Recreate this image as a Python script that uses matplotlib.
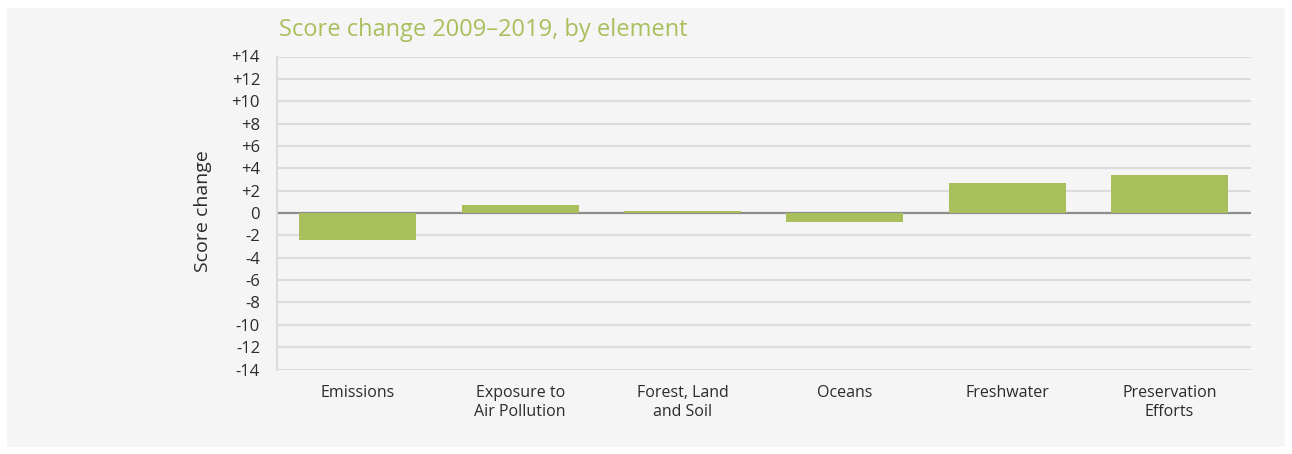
import matplotlib.pyplot as plt
from matplotlib.patches import Rectangle
import matplotlib.transforms as mtransforms

categories = ["Emissions", "Exposure to\nAir Pollution", "Forest, Land\nand Soil",
              "Oceans", "Freshwater", "Preservation\nEfforts"]
values = [-2.4, 0.7, 0.2, -0.8, 2.7, 3.4]
yticks = list(range(-14, 15, 2))
ytick_labels = [f"+{t}" if t > 0 else str(t) for t in yticks]

green = "#a9bf5b"
text_col = "#2b2b2b"
plt.rcParams["font.family"] = ["Open Sans", "DejaVu Sans"]

fig = plt.figure(figsize=(12.92, 4.54), dpi=100)
fig.patch.set_facecolor("white")
fig.patches.append(Rectangle((7 / 1292, 1 - 447 / 454), 1278 / 1292, 439 / 454,
                             transform=fig.transFigure, facecolor="#f5f5f5",
                             edgecolor="none", zorder=-10))

ax = fig.add_axes([276.7 / 1292, 1 - 369.5 / 454, 974 / 1292, 313 / 454])
ax.set_facecolor("none")

x = list(range(len(categories)))
ax.bar(x, values, width=0.72, color=green, zorder=3)

ax.set_xlim(-0.5, len(categories) - 0.5)
ax.set_ylim(-14, 14)
ax.set_yticks(yticks)
ax.set_yticklabels(ytick_labels, fontsize=12, color=text_col)
ax.set_xticks(x)
ax.set_xticklabels(categories, fontsize=11.5, color=text_col, linespacing=1.3, va="top")

# push y labels slightly down like the reference
offset = mtransforms.ScaledTranslation(0, -5 / 100, fig.dpi_scale_trans)
for lbl in ax.get_yticklabels():
    lbl.set_transform(lbl.get_transform() + offset)

ax.tick_params(axis="both", length=0)
ax.tick_params(axis="y", pad=12)
ax.tick_params(axis="x", pad=11)

for t in yticks:
    if t != 0:
        ax.axhline(t, color="#dcdcdc", lw=1.5, zorder=1)
ax.axhline(0, color="#8c8c8c", lw=1.6, zorder=2.5)

for s in ["top", "right", "bottom"]:
    ax.spines[s].set_visible(False)
ax.spines["left"].set_color("#dcdcdc")
ax.spines["left"].set_linewidth(1.5)

fig.text(203 / 1292, 1 - 211 / 454, "Score change", rotation=90, ha="center",
         va="center", fontsize=14, color=text_col)
fig.text(279 / 1292, 1 - 30 / 454, "Score change 2009\u20132019, by element",
         ha="left", va="center", fontsize=17, color=green)

fig.savefig("out.png", dpi=100, facecolor=fig.get_facecolor())
